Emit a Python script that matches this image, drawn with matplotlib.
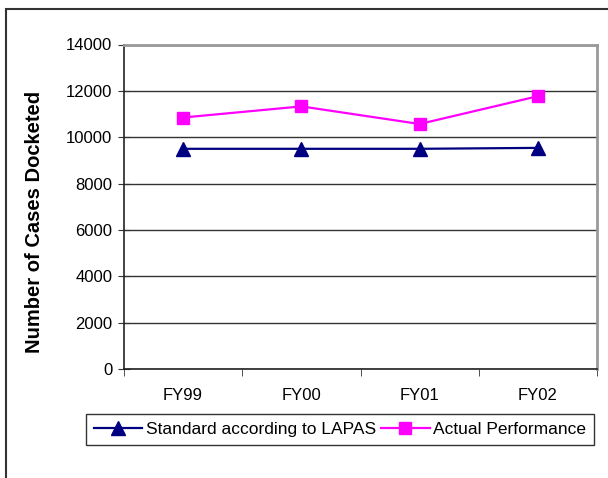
import numpy as np
import matplotlib.pyplot as plt
from matplotlib.patches import Rectangle

plt.rcParams['font.family'] = ['Liberation Sans', 'DejaVu Sans']

# Docketed cases per fiscal year
years = ['FY99', 'FY00', 'FY01', 'FY02']
standard = [9500, 9500, 9500, 9540]
actual = [10850, 11330, 10570, 11770]
y_ticks = [0, 2000, 4000, 6000, 8000, 10000, 12000, 14000]

W, H = 608, 478
fig = plt.figure(figsize=(W / 100, H / 100), dpi=100)

# outer chart border (runs off the right and bottom edges)
fig.patches.append(Rectangle((6 / W, -0.05), 1.2, 1 - 9 / H + 0.05,
                             transform=fig.transFigure, fill=False,
                             edgecolor='#333333', linewidth=1.5))

ax = fig.add_axes([124 / W, 1 - 369 / H, (597 - 124) / W, (369 - 44.5) / H])
x = np.arange(len(years))

ax.plot(x, standard, color='#000080', marker='^', markersize=10,
        linewidth=1.6, label='Standard according to LAPAS', zorder=3)
ax.plot(x, actual, color='#FF00FF', marker='s', markersize=9,
        linewidth=1.6, label='Actual Performance', zorder=3)

ax.set_xlim(-0.5, len(years) - 0.5)
ax.set_ylim(0, 14000)
ax.set_yticks(y_ticks)
ax.set_yticklabels([str(v) for v in y_ticks], fontsize=12)
ax.yaxis.grid(True, color='#333333', linewidth=1)
ax.set_axisbelow(True)

ax.set_xticks(x)
ax.set_xticklabels(years, fontsize=12)
ax.set_xticks(np.arange(-0.5, len(years)), minor=True)
ax.tick_params(axis='x', which='major', length=0, pad=14)
ax.tick_params(axis='x', which='minor', direction='out', length=5, color='#333333')
ax.tick_params(axis='y', direction='inout', length=9, color='#333333', pad=4)

for side in ('top', 'right'):
    ax.spines[side].set_color('#999999')
    ax.spines[side].set_linewidth(2)
for side in ('left', 'bottom'):
    ax.spines[side].set_color('#222222')
    ax.spines[side].set_linewidth(1.2)

fig.text(35 / W, 1 - 222 / H, 'Number of Cases Docketed', rotation=90,
         ha='center', va='center', fontsize=14.5, fontweight='bold')

leg = fig.legend(loc='center', bbox_to_anchor=(340 / W, 1 - 429.5 / H),
                 ncol=2, fontsize=12.5, frameon=True, fancybox=False,
                 edgecolor='black', handlelength=2.8, handletextpad=0.2,
                 columnspacing=0.3, borderpad=0.45, borderaxespad=0)
leg.get_frame().set_linewidth(1)

fig.savefig('out.png', dpi=100)
